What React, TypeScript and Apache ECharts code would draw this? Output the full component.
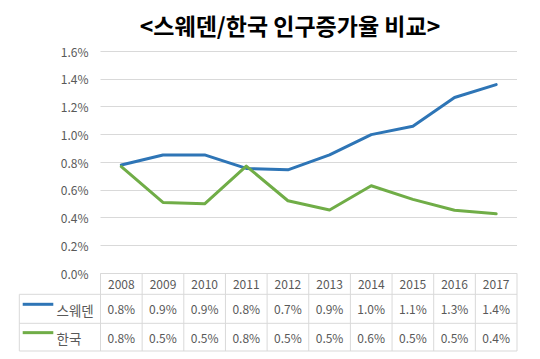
import React, { useEffect, useRef } from "react";
import * as echarts from "echarts";

const years = ["2008", "2009", "2010", "2011", "2012", "2013", "2014", "2015", "2016", "2017"];
const seriesNames = ["스웨덴", "한국"];
const sweden = [0.78, 0.852, 0.852, 0.755, 0.745, 0.852, 0.998, 1.058, 1.265, 1.358];
const korea = [0.768, 0.51, 0.5, 0.772, 0.522, 0.456, 0.63, 0.532, 0.454, 0.428];
const yTicks = { min: 0, max: 1.6, interval: 0.2 };
const colors = ["#2E75B6", "#70AD47"];

const W = 540;
const H = 359;
const GL = 100.5;
const GR = 517;
const GT = 51;
const GB = 273.3;
const ROW1 = 294.3;
const ROW2 = 323.3;
const ROW3 = 351;
const TABLE_L = 19.3;
const FONT = "'Noto Sans CJK KR', 'Noto Sans', sans-serif";
const GRAY = "#595959";
const LINE = "#d9d9d9";

function buildTable(): any[] {
  const els: any[] = [];
  const cw = (GR - GL) / years.length;
  const hl = (y: number, x1: number, x2: number) => ({
    type: "line",
    silent: true,
    shape: { x1, y1: y, x2, y2: y },
    style: { stroke: LINE, lineWidth: 1 },
  });
  const vl = (x: number, y1: number, y2: number) => ({
    type: "line",
    silent: true,
    shape: { x1: x, y1, x2: x, y2 },
    style: { stroke: LINE, lineWidth: 1 },
  });
  els.push(hl(ROW1, TABLE_L, GR));
  els.push(hl(ROW2, TABLE_L, GR));
  els.push(hl(ROW3, TABLE_L, GR));
  els.push(vl(TABLE_L, ROW1, ROW3));
  for (let i = 0; i <= years.length; i++) {
    els.push(vl(GL + i * cw, GB, ROW3));
  }
  const rowsC = [(GB + ROW1) / 2, (ROW1 + ROW2) / 2, (ROW2 + ROW3) / 2];
  years.forEach((y, i) => {
    els.push({
      type: "text",
      silent: true,
      x: GL + (i + 0.5) * cw,
      y: rowsC[0],
      style: { text: y, fontSize: 12, fontFamily: FONT, fill: GRAY, align: "center", verticalAlign: "middle" },
    });
  });
  [sweden, korea].forEach((arr, r) => {
    const cy = rowsC[r + 1];
    els.push({
      type: "line",
      silent: true,
      shape: { x1: 22.7, y1: cy - 4.5, x2: 53.3, y2: cy - 4.5 },
      style: { stroke: colors[r], lineWidth: 3 },
    });
    els.push({
      type: "text",
      silent: true,
      x: 56.5,
      y: cy + 1,
      style: { text: seriesNames[r], fontSize: 13.5, fontFamily: FONT, fill: GRAY, align: "left", verticalAlign: "middle" },
    });
    arr.forEach((v, i) => {
      els.push({
        type: "text",
        silent: true,
        x: GL + (i + 0.5) * cw,
        y: cy,
        style: {
          text: (Math.round(v * 10) / 10).toFixed(1) + "%",
          fontSize: 12,
          fontFamily: FONT,
          fill: GRAY,
          align: "center",
          verticalAlign: "middle",
        },
      });
    });
  });
  return els;
}

export default function App() {
  const ref = useRef<HTMLDivElement>(null);
  useEffect(() => {
    if (!ref.current) return;
    const chart = echarts.init(ref.current, null, { renderer: "svg" });
    chart.setOption({
      animation: false,
      backgroundColor: "#ffffff",
      title: {
        text: "<스웨덴/한국 인구증가율 비교>",
        left: 285,
        top: 8,
        textAlign: "center",
        textStyle: { fontSize: 23, fontWeight: "bold", color: "#000000", fontFamily: FONT },
      },
      grid: { left: GL, right: W - GR, top: GT, bottom: H - GB, containLabel: false },
      xAxis: {
        type: "category",
        data: years,
        boundaryGap: true,
        axisLine: { show: false },
        axisTick: { show: false },
        axisLabel: { show: false },
        splitLine: { show: false },
      },
      yAxis: {
        type: "value",
        min: yTicks.min,
        max: yTicks.max,
        interval: yTicks.interval,
        axisLine: { show: false },
        axisTick: { show: false },
        axisLabel: {
          formatter: (v: number) => v.toFixed(1) + "%",
          fontSize: 12,
          color: GRAY,
          fontFamily: FONT,
          margin: 12,
        },
        splitLine: { lineStyle: { color: LINE, width: 1 } },
      },
      series: [
        {
          name: seriesNames[0],
          type: "line",
          data: sweden,
          symbol: "none",
          lineStyle: { color: colors[0], width: 3, cap: "round", join: "round" },
          itemStyle: { color: colors[0] },
        },
        {
          name: seriesNames[1],
          type: "line",
          data: korea,
          symbol: "none",
          lineStyle: { color: colors[1], width: 3, cap: "round", join: "round" },
          itemStyle: { color: colors[1] },
        },
      ],
      graphic: buildTable(),
    });
    return () => chart.dispose();
  }, []);
  return <div ref={ref} style={{ position: "fixed", left: 0, top: 0, width: W, height: H }} />;
}
